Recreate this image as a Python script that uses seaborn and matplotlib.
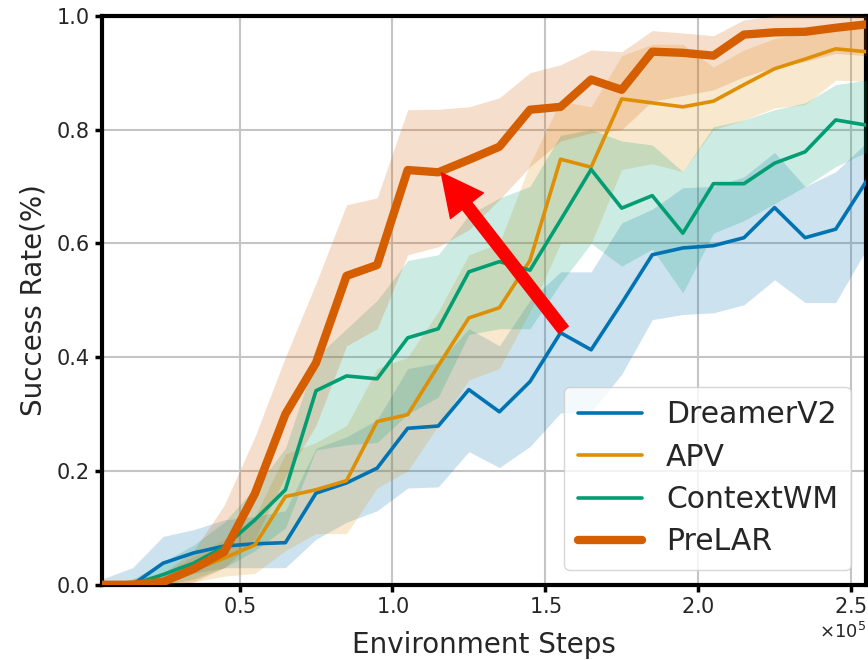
import numpy as np
import pandas as pd
import seaborn as sns
import matplotlib
matplotlib.use("Agg")
from matplotlib import pyplot as plt

# environment steps (x axis)
steps = [5000, 15000, 25000, 35000, 45000, 55000, 65000, 75000, 85000, 95000,
         105000, 115000, 125000, 135000, 145000, 155000, 165000, 175000, 185000,
         195000, 205000, 215000, 225000, 235000, 245000, 255000]

dreamer = [0.0, 0.0, 0.038, 0.056, 0.068, 0.072, 0.074, 0.161, 0.179, 0.205, 0.275,
           0.279, 0.343, 0.304, 0.357, 0.443, 0.413, 0.495, 0.58, 0.592, 0.596, 0.61,
           0.663, 0.61, 0.625, 0.709]
dreamer_lo = [0.0, 0.0, 0.0, 0.02, 0.03, 0.03, 0.03, 0.08, 0.11, 0.13, 0.17, 0.172,
              0.234, 0.206, 0.243, 0.302, 0.304, 0.37, 0.466, 0.475, 0.478, 0.492,
              0.536, 0.496, 0.496, 0.589]
dreamer_hi = [0.01, 0.03, 0.085, 0.097, 0.114, 0.12, 0.13, 0.24, 0.26, 0.29, 0.38,
              0.39, 0.45, 0.42, 0.5, 0.55, 0.55, 0.636, 0.66, 0.698, 0.7, 0.717, 0.76,
              0.7, 0.726, 0.777]

apv = [0.0, 0.0, 0.003, 0.026, 0.047, 0.07, 0.155, 0.167, 0.183, 0.287, 0.299, 0.385,
       0.469, 0.487, 0.57, 0.748, 0.734, 0.854, 0.847, 0.84, 0.85, 0.879, 0.907,
       0.924, 0.942, 0.937]
apv_lo = [0.0, 0.0, 0.0, 0.005, 0.015, 0.02, 0.06, 0.09, 0.09, 0.17, 0.2, 0.28, 0.36,
          0.38, 0.48, 0.6, 0.6, 0.73, 0.74, 0.726, 0.8, 0.817, 0.838, 0.844, 0.887,
          0.885]
apv_hi = [0.0, 0.01, 0.02, 0.05, 0.08, 0.12, 0.23, 0.25, 0.28, 0.38, 0.4, 0.48, 0.58,
          0.6, 0.74, 0.85, 0.84, 0.93, 0.95, 0.95, 0.91, 0.94, 0.96, 0.97, 0.985,
          0.985]

context = [0.0, 0.0, 0.018, 0.038, 0.067, 0.114, 0.167, 0.341, 0.367, 0.362, 0.434,
           0.45, 0.55, 0.568, 0.553, 0.641, 0.73, 0.662, 0.684, 0.618, 0.705, 0.705,
           0.741, 0.761, 0.817, 0.808]
context_lo = [0.0, 0.0, 0.0, 0.01, 0.03, 0.06, 0.1, 0.237, 0.246, 0.25, 0.3, 0.33,
              0.44, 0.45, 0.45, 0.53, 0.6, 0.56, 0.59, 0.513, 0.618, 0.64, 0.67, 0.7,
              0.735, 0.76]
context_hi = [0.0, 0.01, 0.04, 0.07, 0.11, 0.17, 0.24, 0.4, 0.45, 0.5, 0.57, 0.58,
              0.65, 0.68, 0.7, 0.79, 0.8, 0.78, 0.773, 0.726, 0.805, 0.817, 0.835,
              0.847, 0.879, 0.887]

prelar = [0.0, 0.0, 0.005, 0.028, 0.058, 0.16, 0.3, 0.39, 0.543, 0.562, 0.729, 0.725,
          0.747, 0.77, 0.835, 0.84, 0.888, 0.87, 0.937, 0.935, 0.93, 0.967, 0.971,
          0.972, 0.979, 0.985]
prelar_lo = [0.0, 0.0, 0.0, 0.005, 0.03, 0.08, 0.19, 0.28, 0.42, 0.45, 0.58, 0.594,
             0.624, 0.677, 0.735, 0.78, 0.794, 0.8, 0.85, 0.86, 0.87, 0.893, 0.91,
             0.92, 0.934, 0.93]
prelar_hi = [0.0, 0.01, 0.02, 0.06, 0.14, 0.26, 0.4, 0.53, 0.668, 0.68, 0.835, 0.836,
             0.84, 0.856, 0.9, 0.914, 0.94, 0.937, 0.974, 0.97, 0.965, 0.993, 1.0, 1.0,
             1.0, 1.0]

methods = ["DreamerV2", "APV", "ContextWM", "PreLAR"]

sns.set_theme(style="whitegrid")
plt.rcParams["font.family"] = ["DejaVu Sans"]
colors = sns.color_palette("colorblind")
method_colors = [colors[0], colors[1], colors[2], colors[3]]
widths = [2.6, 2.6, 2.6, 6.0]

fig, ax = plt.subplots(figsize=(8.68, 6.6), dpi=100)
fig.subplots_adjust(left=0.1175, right=0.998, top=0.976, bottom=0.114)

series = [(dreamer, dreamer_lo, dreamer_hi),
          (apv, apv_lo, apv_hi),
          (context, context_lo, context_hi),
          (prelar, prelar_lo, prelar_hi)]

for i, (name, (mean, lo, hi)) in enumerate(zip(methods, series)):
    ax.fill_between(steps, lo, hi, color=method_colors[i], alpha=0.2,
                    linewidth=0, zorder=1 + i)
for i, (name, (mean, lo, hi)) in enumerate(zip(methods, series)):
    df = pd.DataFrame({"step": steps, "rate": mean})
    sns.lineplot(data=df, x="step", y="rate", ax=ax, color=method_colors[i],
                 linewidth=widths[i], label=name, zorder=10 + i)

# red arrow pointing at the PreLAR curve
ax.annotate("", xy=(116000, 0.724), xytext=(156000, 0.448),
            arrowprops=dict(facecolor="red", edgecolor="red", width=8.5,
                            headwidth=30, headlength=30),
            zorder=20)

ax.set_xlim(5000, 255000)
ax.set_ylim(0, 1.0)
ax.set_yticks([0.0, 0.2, 0.4, 0.6, 0.8, 1.0])
ax.set_xticks([50000, 100000, 150000, 200000, 250000])
ax.ticklabel_format(axis="x", style="sci", scilimits=(0, 0), useMathText=True)
ax.xaxis.get_offset_text().set_fontsize(13)

ax.set_xlabel("Environment Steps", fontsize=20, labelpad=10)
ax.set_ylabel("Success Rate(%)", fontsize=20, labelpad=6)
ax.tick_params(axis="both", labelsize=15, direction="out", length=5, width=2.5,
               color="black", bottom=True, left=True, pad=4)
ax.grid(True, color="#c4c4c4", linewidth=1.5)
for sp in ax.spines.values():
    sp.set_color("black")
    sp.set_linewidth(3)

ax.legend(loc="lower right", fontsize=21.5, handlelength=2.15, borderpad=0.45,
          labelspacing=0.45, handletextpad=0.8, framealpha=0.8)

plt.savefig("out.png", dpi=100)
